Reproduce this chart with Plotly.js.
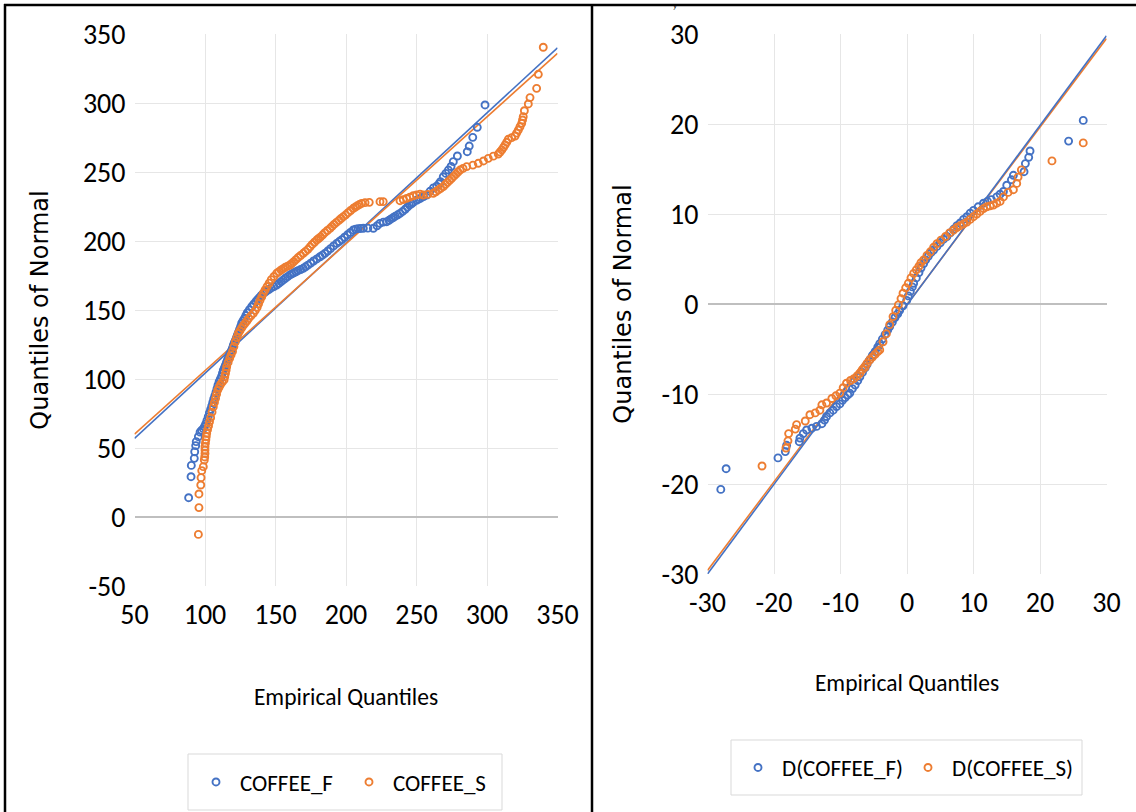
<!DOCTYPE html>
<html>
<head>
<meta charset="utf-8">
<script src="https://cdn.plot.ly/plotly-3.0.1.min.js"></script>
<style>
html,body{margin:0;padding:0;background:#fff;}
#chart{width:1136px;height:812px;}
</style>
</head>
<body>
<div id="chart"></div>
<script>
// ---- Left panel: [empirical quantile, quantile of normal]
const coffeeF = [[88.4,14.0],[90.1,29.2],[90.3,37.4],[92.4,42.5],[92.7,47.3],[93.4,51.7],[93.8,54.6],[95.3,58.2],[96.5,61.5],[97.5,62.8],[98.8,64],[99.6,65.5],[100.5,67.5],[101.4,70],[102.3,72.7],[103.1,75.5],[104,78],[104.8,80.5],[105.5,83],[106.2,85.5],[107,88],[107.8,90.5],[108.5,93],[109.2,95.5],[110,98],[110.9,100],[111.8,102],[112.4,104.3],[113,106.5],[113.8,108.3],[114.5,110],[115.2,112],[116,114],[116.8,116],[117.5,118],[118.3,119.5],[119,121],[119.6,122.8],[120.1,124.6],[120.8,126.3],[121.5,128],[122.3,130],[123,132],[123.8,134],[124.5,136],[125.3,138.2],[126,140.4],[127,142.2],[128,144],[129,146],[130,148],[131.5,150.2],[133.1,152.4],[134.5,154.2],[136,156],[137.2,157.5],[138.5,159],[139.9,160.6],[141.3,162.1],[142.6,163],[144,164],[145.5,165],[147,166],[148.9,167],[150.8,168.1],[152.4,169.3],[154,170.5],[155.5,171.8],[157,173],[158.6,174.2],[160.3,175.4],[161.6,176.2],[163,177],[164.5,177.7],[166,178.5],[167.8,179.3],[169.7,180.2],[171.3,181.3],[173,182.5],[175,184],[177,185.5],[179.3,187],[181.6,188.6],[183.3,189.8],[185,191],[187,192.7],[189,194.5],[191.2,196.4],[193.4,198.3],[195.2,199.6],[197,201],[199,202.7],[201,204.5],[203.1,206.2],[205.2,208],[206.8,208.6],[208.5,209],[210.4,209.1],[212.3,209.2],[215.5,209.3],[219.4,209.2],[222,211],[224,212.8],[226.5,213.7],[228.9,214],[230.5,215],[232,216],[233.5,217],[235,218],[236.7,219],[238.3,220],[240.2,221.5],[242,223],[243.5,224.5],[245,226],[246.4,227],[247.7,228],[250,229.5],[251.5,230.3],[253,231],[255,232.2],[257.2,233.3],[259.6,236],[262,238.5],[264.3,239.8],[266,241.5],[267,243],[269,246.6],[270.8,249],[272.6,251.4],[274.5,254],[276.1,257.5],[279,261.6],[286,264.7],[287.4,268.8],[289.9,275.1],[293.1,282.4],[298.6,298.6]];
const coffeeS = [[95.3,-12.6],[95.7,6.8],[95.7,16.7],[97.0,23.2],[97.2,28.5],[97.7,33.6],[98.8,36.5],[99.5,41.3],[99.8,43.5],[100,46],[100,48.5],[100,50.9],[100.3,53.5],[100.6,56],[100.9,58.3],[101.2,60.6],[101.8,63.3],[102.5,66],[103.2,69],[104,72],[105,76],[105.9,79.9],[106.7,83],[107.5,86],[108.2,89],[109,92],[110,94],[111,96],[112.2,97.7],[113.5,99.3],[114,101.7],[114.5,104],[115,106.5],[115.4,108.9],[116.4,112],[117.5,115],[118.5,117.5],[119.5,120],[120.5,123.5],[121.5,127],[122.5,130],[123.6,133.1],[124.8,135],[126,137],[127.2,138.8],[128.5,140.5],[129.8,142.2],[131,144],[132.6,145.8],[134.3,147.6],[135.7,149.8],[137,152],[138,154.5],[139,157],[140.2,159.5],[141.3,162.1],[142.6,164.5],[144,167],[145.5,169.5],[147,172],[148.9,174.3],[150.8,176.6],[152.4,177.8],[154,179],[155.5,180],[157,181],[158.6,181.8],[160.3,182.6],[161.6,183.8],[163,185],[164.5,186.5],[166,188],[167.8,189.5],[169.7,191.1],[171.3,192.5],[173,194],[174.5,195.8],[176,197.5],[177.6,199.1],[179.2,200.7],[180.6,201.8],[182,203],[183.5,204.5],[185,206],[186.8,207.6],[188.7,209.2],[190.1,210.6],[191.5,212],[193.2,213.5],[195,215],[196.5,216.3],[198.1,217.6],[199.8,219],[201.5,220.5],[203.3,222.1],[205.2,223.7],[206.6,224.6],[208,225.5],[209.5,226.4],[211.1,227.3],[213.5,227.8],[216.5,228],[224.1,228.5],[226.4,228.5],[238.3,229.2],[240.6,230],[243,230.9],[245.3,231.8],[247.7,232.8],[250,233.4],[252.5,234],[254.8,233.3],[258,233.8],[261.9,234.6],[263.7,235.7],[265.5,237],[267.2,238.2],[269,239.4],[270.5,241],[272,242.5],[273.5,244],[275,245.4],[276.5,247],[278,248.5],[279.4,250],[280.9,251.4],[283,252.6],[285.6,253.9],[290,255],[293.8,256.3],[297.5,258],[300.9,259.9],[304.5,261.5],[308,263],[309.3,264.5],[310.5,266],[311.7,267.8],[312.8,269.6],[314,271.6],[315.1,273.7],[317.5,274.9],[319.9,276.1],[321,278.2],[322.2,280.4],[323.4,282.8],[324.6,285.3],[325.2,287.7],[325.7,290.1],[326.5,294.4],[329.3,299.3],[330.5,303.9],[335.2,310.6],[336.4,320.8],[339.9,340.4]];
// fitted normal reference lines (end points)
const fitLeft_x = [50, 350];
const fitF_y = [57, 340];
const fitS_y = [60, 336];
const leftXTicks = [50, 100, 150, 200, 250, 300, 350];
const leftYTicks = [-50, 0, 50, 100, 150, 200, 250, 300, 350];

// ---- Right panel: [empirical quantile, quantile of normal]
const dCoffeeF = [[-28.0,-20.6],[-27.2,-18.3],[-19.4,-17.1],[-18.3,-16.4],[-18.1,-15.7],[-16.2,-15.3],[-16.1,-14.9],[-15.6,-14.4],[-15.1,-14.0],[-14.3,-13.8],[-13.6,-13.6],[-12.8,-13.3],[-12.4,-12.9],[-12.1,-12.5],[-11.6,-12.1],[-11.1,-11.8],[-10.6,-11.4],[-10.1,-11.1],[-9.7,-10.7],[-9.3,-10.4],[-8.9,-10.1],[-8.6,-9.9],[-8.2,-9.4],[-7.8,-9.0],[-7.4,-8.5],[-7.1,-8.1],[-6.7,-7.6],[-6.3,-7.1],[-6.0,-6.7],[-5.6,-6.2],[-5.2,-5.7],[-4.8,-5.3],[-4.4,-4.8],[-4.1,-4.4],[-3.7,-3.9],[-3.3,-3.4],[-2.9,-2.9],[-2.6,-2.5],[-2.2,-2.0],[-1.8,-1.5],[-1.4,-1.1],[-1.1,-0.7],[-0.6,-0.2],[-0.05,0.4],[0.2,0.9],[0.5,1.4],[0.8,1.9],[1.0,2.3],[1.4,2.9],[1.8,3.5],[2.1,4.0],[2.5,4.5],[2.8,4.9],[3.2,5.3],[3.6,5.7],[4.0,6.0],[4.5,6.4],[5.0,6.8],[5.5,7.2],[6.0,7.5],[6.5,7.9],[7.0,8.3],[7.5,8.7],[8.0,9.0],[8.5,9.4],[9.0,9.7],[9.5,10.1],[10.0,10.4],[10.7,10.8],[11.5,11.2],[12.1,11.4],[12.7,11.6],[13.5,11.9],[14.0,12.2],[14.5,12.5],[15.0,13.2],[15.7,13.8],[16.0,14.3],[17.6,14.7],[17.8,15.6],[18.3,16.3],[18.5,17.0],[24.3,18.1],[26.5,20.4]];
const dCoffeeS = [[-21.8,-18.0],[-18.2,-16.0],[-17.9,-15.2],[-17.8,-14.4],[-16.8,-13.9],[-16.6,-13.4],[-15.3,-13.0],[-14.6,-12.3],[-13.8,-12.1],[-13.1,-11.8],[-12.8,-11.2],[-12.1,-11.0],[-11.3,-10.5],[-10.7,-10.2],[-10.1,-9.9],[-9.6,-9.3],[-9.1,-8.8],[-8.5,-8.5],[-8.0,-8.3],[-7.5,-8.0],[-7.1,-7.7],[-6.7,-7.3],[-6.3,-7.0],[-6.0,-6.6],[-5.6,-6.2],[-5.2,-5.9],[-4.8,-5.6],[-4.4,-5.3],[-4.1,-5.1],[-3.6,-4.2],[-3.1,-3.3],[-2.6,-2.3],[-2.1,-1.4],[-1.7,-0.7],[-1.3,-0.1],[-0.9,0.6],[-0.6,1.2],[-0.2,1.8],[0.2,2.3],[0.6,2.9],[1.0,3.4],[1.4,3.8],[1.8,4.2],[2.1,4.6],[2.5,4.9],[3.0,5.4],[3.5,5.8],[4.0,6.3],[4.5,6.7],[5.1,7.1],[5.8,7.5],[6.4,7.9],[7.0,8.2],[7.5,8.5],[8.0,8.7],[8.5,8.9],[9.0,9.1],[9.5,9.4],[10.0,9.7],[10.5,10.0],[11.0,10.3],[11.5,10.6],[12.0,10.8],[12.5,10.9],[13.0,11.0],[13.5,11.2],[14.0,11.4],[14.5,11.9],[15.2,12.4],[16.0,12.7],[16.5,13.4],[16.7,14.1],[17.2,14.9],[21.8,15.9],[26.5,17.9]];
const fitRight_x = [-30, 30];
const fitDF_y = [-30, 29.8];
const fitDS_y = [-29.6, 29.5];
const rightTicks = [-30, -20, -10, 0, 10, 20, 30];

const BLUE = '#4472C4', ORANGE = '#ED7D31';
const NARROW = 'Carlito, "Liberation Sans Narrow", "DejaVu Sans Condensed", "Liberation Sans", sans-serif';
const WIDE = '"DejaVu Sans", Verdana, sans-serif';
const W = 1136, H = 812;
const px = v => v / W, py = v => 1 - v / H;
const col = (arr, i) => arr.map(p => p[i]);
const lbl = arr => arr.map(v => String(v));

function pts(arr, name, color, xa, ya, leg) {
  return {type:'scatter', mode:'markers', x:col(arr,0), y:col(arr,1), name:name, xaxis:xa, yaxis:ya, legend:leg,
    marker:{symbol:'circle-open', size:7, color:color, line:{width:1.9, color:color}},
    hoverinfo:'x+y'};
}
function fit(x, y, color, xa, ya) {
  return {type:'scatter', mode:'lines', x:x, y:y, xaxis:xa, yaxis:ya, showlegend:false,
    line:{color:color, width:1.6}, hoverinfo:'skip'};
}

const data = [
  fit(fitLeft_x, fitF_y, BLUE, 'x', 'y'),
  fit(fitLeft_x, fitS_y, ORANGE, 'x', 'y'),
  pts(coffeeF, 'COFFEE_F', BLUE, 'x', 'y', 'legend'),
  pts(coffeeS, 'COFFEE_S', ORANGE, 'x', 'y', 'legend'),
  fit(fitRight_x, fitDS_y, ORANGE, 'x2', 'y2'),
  fit(fitRight_x, fitDF_y, BLUE, 'x2', 'y2'),
  pts(dCoffeeF, 'D(COFFEE_F)', BLUE, 'x2', 'y2', 'legend2'),
  pts(dCoffeeS, 'D(COFFEE_S)', ORANGE, 'x2', 'y2', 'legend2')
];

const tickFont = {family:NARROW, size:28, color:'#000'};
const gridC = '#e6e6e6', zeroC = '#bfbfbf';

const layout = {
  width:W, height:H, margin:{l:0, r:0, t:0, b:0},
  paper_bgcolor:'#fff', plot_bgcolor:'#fff',
  showlegend:true,
  xaxis:{domain:[px(134.5), px(557.5)], range:[50,350], tickmode:'array', tickvals:leftXTicks, ticktext:lbl(leftXTicks),
    showgrid:true, gridcolor:gridC, gridwidth:1, zeroline:false, showline:false,
    tickfont:tickFont, ticklabelstandoff:9, automargin:false, anchor:'y',
    title:{text:'Empirical Quantiles', font:{family:NARROW, size:23.5, color:'#000'}, standoff:57}},
  yaxis:{domain:[py(586), py(34)], range:[-50,350], tickmode:'array', tickvals:leftYTicks, ticktext:lbl(leftYTicks),
    showgrid:true, gridcolor:gridC, zeroline:true, zerolinecolor:zeroC, zerolinewidth:1.5, showline:false,
    tickfont:tickFont, ticklabelstandoff:8, automargin:false, anchor:'x',
    title:{text:'Quantiles of Normal', font:{family:WIDE, size:24, color:'#000'}, standoff:27}},
  xaxis2:{domain:[px(707.5), px(1106.5)], range:[-30,30], tickmode:'array', tickvals:rightTicks, ticktext:lbl(rightTicks),
    showgrid:true, gridcolor:gridC, zeroline:false, showline:false,
    tickfont:tickFont, ticklabelstandoff:9, automargin:false, anchor:'y2',
    title:{text:'Empirical Quantiles', font:{family:NARROW, size:23.5, color:'#000'}, standoff:55}},
  yaxis2:{domain:[py(574), py(34)], range:[-30,30], tickmode:'array', tickvals:rightTicks, ticktext:lbl(rightTicks),
    showgrid:true, gridcolor:gridC, zeroline:true, zerolinecolor:zeroC, zerolinewidth:1.5, showline:false,
    tickfont:tickFont, ticklabelstandoff:8, automargin:false, anchor:'x2',
    title:{text:'Quantiles of Normal', font:{family:WIDE, size:24, color:'#000'}, standoff:23}},
  legend:{orientation:'h', x:px(345), xanchor:'center', y:py(782), yanchor:'middle',
    bgcolor:'rgba(0,0,0,0)', borderwidth:0, itemwidth:38, entrywidth:100, entrywidthmode:'pixels',
    font:{family:NARROW, size:23, color:'#000'}},
  legend2:{orientation:'h', x:px(904), xanchor:'center', y:py(767.5), yanchor:'middle',
    bgcolor:'rgba(0,0,0,0)', borderwidth:0, itemwidth:38, entrywidth:117, entrywidthmode:'pixels',
    font:{family:NARROW, size:23, color:'#000'}},
  shapes:[
    // legend frames
    {type:'rect', xref:'paper', yref:'paper', x0:px(188), x1:px(502), y0:py(810), y1:py(754), line:{color:'#d9d9d9', width:1}},
    {type:'rect', xref:'paper', yref:'paper', x0:px(731), x1:px(1082), y0:py(795), y1:py(740), line:{color:'#d9d9d9', width:1}},
    // panel borders
    {type:'line', xref:'paper', yref:'paper', x0:px(4), x1:px(1136), y0:py(5), y1:py(5), line:{color:'#000', width:2.5}},
    {type:'line', xref:'paper', yref:'paper', x0:px(5), x1:px(5), y0:py(4), y1:0, line:{color:'#000', width:2.5}},
    {type:'line', xref:'paper', yref:'paper', x0:px(592), x1:px(592), y0:py(4), y1:0, line:{color:'#000', width:2.5}}
  ],
  annotations:[
    {text:'y', xref:'paper', yref:'paper', x:px(675), y:1, xanchor:'center', yanchor:'top',
     showarrow:false, font:{family:WIDE, size:7, color:'#000'}}
  ]
};

Plotly.newPlot('chart', data, layout, {displayModeBar:false});
</script>
</body>
</html>
